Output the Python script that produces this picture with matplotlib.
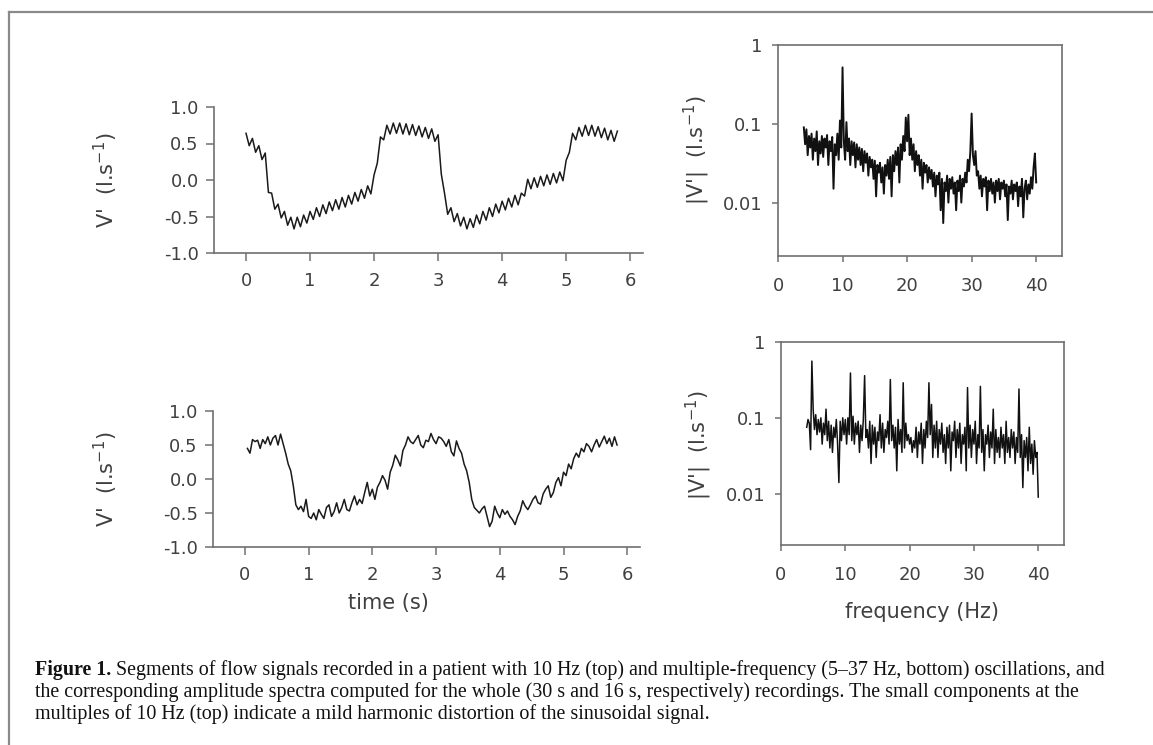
import numpy as np
import matplotlib
matplotlib.use("Agg")
import matplotlib.pyplot as plt
from matplotlib.lines import Line2D
from matplotlib.ticker import FixedLocator, NullLocator

# ---------------- data ----------------
# top time trace: 10 Hz oscillation, samples every 0.05 s from 0 to 5.8 s
top_dt = 0.05
top_flow = [
    0.64, 0.47, 0.57, 0.38, 0.47, 0.28, 0.37, -0.17, -0.18, -0.40,
    -0.33, -0.52, -0.43, -0.62, -0.51, -0.67, -0.51, -0.64, -0.48, -0.59,
    -0.43, -0.54, -0.38, -0.50, -0.34, -0.46, -0.30, -0.42, -0.27, -0.40,
    -0.24, -0.37, -0.21, -0.33, -0.17, -0.29, -0.13, -0.25, -0.08, -0.19,
    0.07, 0.23, 0.59, 0.55, 0.75, 0.63, 0.78, 0.64, 0.78, 0.63,
    0.77, 0.62, 0.76, 0.61, 0.74, 0.59, 0.72, 0.57, 0.70, 0.53,
    0.62, 0.08, -0.18, -0.47, -0.38, -0.57, -0.46, -0.63, -0.51, -0.67,
    -0.53, -0.65, -0.48, -0.60, -0.43, -0.55, -0.38, -0.50, -0.33, -0.45,
    -0.29, -0.41, -0.25, -0.37, -0.21, -0.34, -0.18, -0.22, 0.01, -0.12,
    0.03, -0.10, 0.05, -0.08, 0.07, -0.06, 0.09, -0.04, 0.11, -0.01,
    0.27, 0.38, 0.64, 0.55, 0.72, 0.60, 0.75, 0.61, 0.75, 0.60,
    0.73, 0.58, 0.71, 0.55, 0.68, 0.53, 0.67,
]

# bottom time trace: multiple-frequency oscillation, samples every 0.04 s from 0.04 s
bot_dt = 0.04
bot_flow = [
    0.45, 0.38, 0.58, 0.55, 0.57, 0.45, 0.58, 0.52, 0.62, 0.50,
    0.60, 0.64, 0.50, 0.66, 0.52, 0.38, 0.22, 0.12, -0.10, -0.38,
    -0.45, -0.40, -0.48, -0.30, -0.55, -0.58, -0.50, -0.60, -0.45, -0.52,
    -0.58, -0.42, -0.38, -0.55, -0.48, -0.35, -0.50, -0.42, -0.30, -0.45,
    -0.47, -0.35, -0.25, -0.38, -0.30, -0.36, -0.20, -0.05, -0.25, -0.15,
    -0.30, -0.12, -0.05, 0.05, -0.02, -0.15, 0.10, 0.20, 0.35, 0.28,
    0.19, 0.42, 0.50, 0.62, 0.55, 0.52, 0.58, 0.64, 0.50, 0.46,
    0.57, 0.55, 0.67, 0.58, 0.52, 0.62, 0.60, 0.55, 0.48, 0.58,
    0.40, 0.34, 0.56, 0.45, 0.38, 0.22, 0.12, -0.05, -0.30, -0.42,
    -0.46, -0.50, -0.44, -0.40, -0.55, -0.70, -0.62, -0.40, -0.50, -0.57,
    -0.45, -0.52, -0.47, -0.55, -0.60, -0.67, -0.55, -0.47, -0.32, -0.40,
    -0.45, -0.38, -0.30, -0.25, -0.35, -0.37, -0.22, -0.15, -0.10, -0.27,
    -0.20, -0.05, 0.02, -0.10, 0.10, 0.05, 0.22, 0.15, 0.30, 0.38,
    0.32, 0.45, 0.40, 0.52, 0.48, 0.40, 0.50, 0.58, 0.47, 0.55,
    0.63, 0.52, 0.60, 0.48, 0.62, 0.50,
]

# spectra sampled every 0.2 Hz from 4 to 40 Hz
freq_start, freq_step = 4.0, 0.2
top_spec = [
    0.090, 0.055, 0.085, 0.040, 0.070,
    0.050, 0.075, 0.035, 0.065, 0.045,
    0.080, 0.030, 0.060, 0.042, 0.070,
    0.038, 0.065, 0.050, 0.072, 0.030,
    0.060, 0.045, 0.068, 0.015, 0.055,
    0.040, 0.075, 0.035, 0.110, 0.050,
    0.520, 0.060, 0.035, 0.105, 0.045,
    0.065, 0.030, 0.060, 0.040, 0.058,
    0.028, 0.055, 0.035, 0.050, 0.030,
    0.048, 0.025, 0.045, 0.032, 0.042,
    0.022, 0.038, 0.028, 0.035, 0.020,
    0.034, 0.012, 0.030, 0.024, 0.032,
    0.018, 0.028, 0.013, 0.030, 0.022,
    0.035, 0.020, 0.038, 0.012, 0.040,
    0.025, 0.045, 0.030, 0.050, 0.018,
    0.055, 0.035, 0.070, 0.045, 0.120,
    0.060, 0.130, 0.040, 0.065, 0.035,
    0.055, 0.025, 0.045, 0.030, 0.040,
    0.022, 0.035, 0.015, 0.032, 0.024,
    0.030, 0.018, 0.028, 0.020, 0.026,
    0.016, 0.024, 0.012, 0.022, 0.017,
    0.024, 0.008, 0.020, 0.0055, 0.018,
    0.014, 0.022, 0.010, 0.020, 0.015,
    0.021, 0.013, 0.018, 0.008, 0.019,
    0.014, 0.022, 0.010, 0.020, 0.016,
    0.024, 0.018, 0.035, 0.025, 0.045,
    0.135, 0.040, 0.030, 0.045, 0.022,
    0.025, 0.015, 0.022, 0.012, 0.020,
    0.016, 0.021, 0.008, 0.019, 0.014,
    0.020, 0.013, 0.018, 0.010, 0.019,
    0.014, 0.020, 0.011, 0.018, 0.015,
    0.019, 0.012, 0.017, 0.006, 0.016,
    0.013, 0.019, 0.011, 0.017, 0.014,
    0.018, 0.009, 0.016, 0.012, 0.020,
    0.0065, 0.015, 0.019, 0.011, 0.017,
    0.013, 0.021, 0.015, 0.028, 0.042,
    0.018,
]
bot_spec = [
    0.075, 0.095, 0.085, 0.038, 0.560,
    0.130, 0.070, 0.110, 0.060, 0.095,
    0.065, 0.100, 0.045, 0.085, 0.060,
    0.130, 0.050, 0.090, 0.040, 0.080,
    0.035, 0.075, 0.055, 0.095, 0.045,
    0.014, 0.090, 0.050, 0.100, 0.060,
    0.095, 0.045, 0.100, 0.060, 0.390,
    0.050, 0.105, 0.045, 0.085, 0.060,
    0.090, 0.035, 0.080, 0.050, 0.095,
    0.360, 0.055, 0.070, 0.040, 0.090,
    0.025, 0.080, 0.045, 0.075, 0.030,
    0.065, 0.050, 0.110, 0.040, 0.085,
    0.035, 0.070, 0.055, 0.090, 0.045,
    0.320, 0.050, 0.080, 0.040, 0.075,
    0.020, 0.095, 0.045, 0.070, 0.035,
    0.290, 0.040, 0.085, 0.050, 0.060,
    0.045, 0.055, 0.035, 0.050, 0.040,
    0.075, 0.030, 0.065, 0.045, 0.085,
    0.025, 0.070, 0.040, 0.090, 0.055,
    0.290, 0.060, 0.150, 0.030, 0.080,
    0.040, 0.090, 0.030, 0.070, 0.045,
    0.085, 0.035, 0.060, 0.025, 0.075,
    0.040, 0.080, 0.020, 0.065, 0.050,
    0.090, 0.030, 0.070, 0.040, 0.085,
    0.025, 0.060, 0.045, 0.075, 0.020,
    0.250, 0.040, 0.080, 0.030, 0.070,
    0.045, 0.090, 0.025, 0.060, 0.040,
    0.260, 0.035, 0.070, 0.020, 0.060,
    0.045, 0.080, 0.030, 0.065, 0.040,
    0.130, 0.025, 0.070, 0.035, 0.055,
    0.030, 0.075, 0.040, 0.060, 0.025,
    0.090, 0.035, 0.055, 0.030, 0.070,
    0.040, 0.065, 0.025, 0.055, 0.035,
    0.240, 0.030, 0.060, 0.012, 0.050,
    0.030, 0.055, 0.020, 0.075, 0.025,
    0.045, 0.018, 0.050, 0.030, 0.035,
    0.009,
]

time_ticks = [0, 1, 2, 3, 4, 5, 6]
flow_ticks = [-1.0, -0.5, 0.0, 0.5, 1.0]
freq_ticks = [0, 10, 20, 30, 40]
amp_ticks = [0.01, 0.1, 1]
amp_labels = ["0.01", "0.1", "1"]

caption_bold = "Figure 1."
caption_lines = [
    " Segments of flow signals recorded in a patient with 10 Hz (top) and multiple-frequency (5\u201337 Hz, bottom) oscillations, and",
    "the corresponding amplitude spectra computed for the whole (30 s and 16 s, respectively) recordings. The small components at the",
    "multiples of 10 Hz (top) indicate a mild harmonic distortion of the sinusoidal signal.",
]

# ---------------- figure ----------------
W, H = 1153, 745
fig = plt.figure(figsize=(W / 100, H / 100), dpi=100)
fig.patch.set_facecolor("white")

SPINE = "#707070"
TXT = "#404040"


def px_axes(left, top, right, bottom):
    return fig.add_axes([left / W, 1 - bottom / H, (right - left) / W, (bottom - top) / H])


def style(ax, box):
    for s in ax.spines.values():
        s.set_color(SPINE)
        s.set_linewidth(1.2)
    if not box:
        ax.spines["top"].set_visible(False)
        ax.spines["right"].set_visible(False)
    ax.tick_params(axis="both", which="major", colors=SPINE, labelcolor=TXT,
                   labelsize=13, width=1.1)
    ax.tick_params(axis="both", which="minor", length=0)


t_top = np.arange(len(top_flow)) * top_dt
t_bot = (np.arange(len(bot_flow)) + 1) * bot_dt
f_top = freq_start + np.arange(len(top_spec)) * freq_step
f_bot = freq_start + np.arange(len(bot_spec)) * freq_step

# left panels
for (box, t, v) in [((214, 107, 643, 253), t_top, top_flow),
                    ((213, 411, 640, 547), t_bot, bot_flow)]:
    ax = px_axes(*box)
    ax.plot(t, v, color="#1a1a1a", lw=1.1)
    ax.set_xlim(-0.5, 6.2)
    ax.set_ylim(-1.0, 1.0)
    ax.xaxis.set_major_locator(FixedLocator(time_ticks))
    ax.yaxis.set_major_locator(FixedLocator(flow_ticks))
    ax.set_yticklabels([f"{y:.1f}" for y in flow_ticks])
    ax.set_xticklabels([str(x) for x in time_ticks])
    style(ax, box=False)
    ax.tick_params(axis="y", length=6, pad=5)
    ax.tick_params(axis="x", length=6, pad=8)

# right panels
for (box, f, s, lw) in [((778, 45, 1062, 256), f_top, top_spec, 1.4),
                        ((781, 342, 1064, 545), f_bot, bot_spec, 1.1)]:
    ax = px_axes(*box)
    ax.plot(f, s, color="#111111", lw=lw)
    ax.set_yscale("log")
    ax.set_xlim(0, 44)
    ax.set_ylim(0.0021, 1)
    ax.xaxis.set_major_locator(FixedLocator(freq_ticks))
    ax.yaxis.set_major_locator(FixedLocator(amp_ticks))
    ax.yaxis.set_minor_locator(NullLocator())
    ax.set_yticklabels(amp_labels)
    ax.set_xticklabels([str(x) for x in freq_ticks])
    style(ax, box=True)
    ax.tick_params(axis="y", length=4, pad=7)
    ax.tick_params(axis="x", length=4, pad=11)

# axis labels
lab_kw = dict(fontsize=15, color=TXT, ha="center", va="center")
fig.text(106 / W, 1 - 180 / H, "V'  (l.s$^{-1}$)", rotation=90, **lab_kw)
fig.text(106 / W, 1 - 479 / H, "V'  (l.s$^{-1}$)", rotation=90, **lab_kw)
fig.text(697 / W, 1 - 150 / H, "|V'|  (l.s$^{-1}$)", rotation=90, **lab_kw)
fig.text(699 / W, 1 - 445 / H, "|V'|  (l.s$^{-1}$)", rotation=90, **lab_kw)
fig.text(388 / W, 1 - 603 / H, "time (s)", **lab_kw)
fig.text(922 / W, 1 - 612 / H, "frequency (Hz)", **lab_kw)

# outer frame (left and top edges)
frame_kw = dict(color="#8a8a8a", lw=1.6, transform=fig.transFigure)
fig.add_artist(Line2D([9 / W, 9 / W], [0, 1 - 12 / H], **frame_kw))
fig.add_artist(Line2D([9 / W, 1], [1 - 12 / H, 1 - 12 / H], **frame_kw))

# caption
cap_font = "Liberation Serif"
cap_size = 14.4
renderer = fig.canvas.get_renderer()
x0 = 35
bold = fig.text(x0 / W, 1 - 675 / H, caption_bold, fontsize=cap_size, family=cap_font,
                fontweight="bold", color="#111111", va="baseline", ha="left")
bw = bold.get_window_extent(renderer).width
fig.text((x0 + bw) / W, 1 - 675 / H, caption_lines[0], fontsize=cap_size, family=cap_font,
         color="#111111", va="baseline", ha="left")
fig.text(x0 / W, 1 - 697 / H, caption_lines[1], fontsize=cap_size, family=cap_font,
         color="#111111", va="baseline", ha="left")
fig.text(x0 / W, 1 - 719 / H, caption_lines[2], fontsize=cap_size, family=cap_font,
         color="#111111", va="baseline", ha="left")

fig.savefig("out.png", dpi=100, facecolor="white")
